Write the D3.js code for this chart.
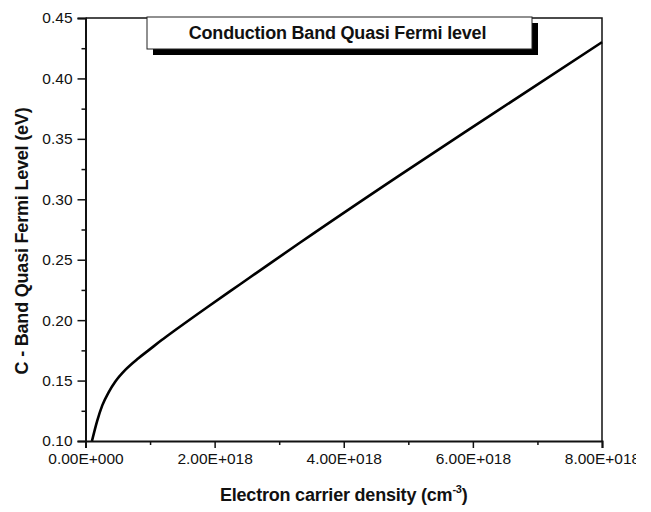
<!DOCTYPE html>
<html>
<head>
<meta charset="utf-8">
<script src="https://cdn.jsdelivr.net/npm/d3@7"></script>
<style>
  body { margin: 0; background: #fff; }
  svg { display: block; }
  text { font-family: "Liberation Sans", Arial, sans-serif; fill: #111; }
</style>
</head>
<body>
<svg id="chart"></svg>
<script>
const width = 651;
const height = 512;

// electron density (cm^-3) and quasi fermi level (eV)
const density = [1.0e17, 1.8e17, 2.6e17, 3.6e17, 4.6e17, 6.2e17, 8.2e17, 1.0e18, 1.18e18,
    1.37e18, 1.88e18, 2.39e18, 2.86e18, 3.32e18, 4.87e18, 6.26e18, 8.0e18];
const fermiLevel = [0.100, 0.1165, 0.1295, 0.1405, 0.149, 0.159, 0.1685, 0.176, 0.1835,
    0.191, 0.2105, 0.2295, 0.247, 0.264, 0.320, 0.369, 0.430];

const xTicks = [0, 2e18, 4e18, 6e18, 8e18];
const xMinor = [1e18, 3e18, 5e18, 7e18];
const yTicks = [0.10, 0.15, 0.20, 0.25, 0.30, 0.35, 0.40, 0.45];
const yMinor = [0.125, 0.175, 0.225, 0.275, 0.325, 0.375, 0.425];

const chartTitle = "Conduction Band Quasi Fermi level";
const yTitle = "C - Band Quasi Fermi Level (eV)";

const margin = { left: 85.5, right: 49, top: 18, bottom: 71 };

// the original image is cut off just past the last x label
const svg = d3.select("#chart")
    .attr("width", 636)
    .attr("height", height);

const x = d3.scaleLinear()
    .domain([0, 8e18])
    .range([margin.left, width - margin.right]);

const y = d3.scaleLinear()
    .domain([0.10, 0.45])
    .range([height - margin.bottom, margin.top]);

function sciFormat(d) {
    if (d === 0) return "0.00E+000";
    const e = Math.floor(Math.log10(d));
    const m = d / Math.pow(10, e);
    return m.toFixed(2) + "E+" + String(e).padStart(3, "0");
}

// frame top / right
svg.append("path")
    .attr("d", `M${x(0)},${y(0.45)}H${x(8e18)}V${y(0.10)}`)
    .attr("fill", "none")
    .attr("stroke", "#111")
    .attr("stroke-width", 1.5);

// x axis
svg.append("g")
    .attr("transform", `translate(0,${y(0.10)})`)
    .call(d3.axisBottom(x).tickValues(xTicks).tickFormat(sciFormat).tickSize(7).tickPadding(5));
svg.append("g")
    .attr("transform", `translate(0,${y(0.10)})`)
    .call(d3.axisBottom(x).tickValues(xMinor).tickFormat("").tickSize(4))
    .select(".domain").remove();

// y axis
svg.append("g")
    .attr("transform", `translate(${x(0)},0)`)
    .call(d3.axisLeft(y).tickValues(yTicks).tickFormat(d3.format(".2f")).tickSize(8).tickPadding(5));
svg.append("g")
    .attr("transform", `translate(${x(0)},0)`)
    .call(d3.axisLeft(y).tickValues(yMinor).tickFormat("").tickSize(4))
    .select(".domain").remove();

svg.selectAll(".domain").attr("stroke", "#111").attr("stroke-width", 2);
svg.selectAll(".tick line").attr("stroke", "#111").attr("stroke-width", 1.5);
svg.selectAll(".tick text")
    .style("font-family", '"Liberation Sans", Arial, sans-serif')
    .style("font-size", "15.5px")
    .attr("fill", "#222");

// curve
const line = d3.line()
    .x((d, i) => x(density[i]))
    .y((d, i) => y(fermiLevel[i]))
    .curve(d3.curveMonotoneX);

svg.append("path")
    .datum(density)
    .attr("d", line)
    .attr("fill", "none")
    .attr("stroke", "#000")
    .attr("stroke-width", 2.6);

// title box with shadow
const box = { x: 147, y: 17, w: 385, h: 32, off: 6 };
svg.append("rect")
    .attr("x", box.x + box.off).attr("y", box.y + box.off)
    .attr("width", box.w).attr("height", box.h)
    .attr("fill", "#000");
svg.append("rect")
    .attr("x", box.x).attr("y", box.y)
    .attr("width", box.w).attr("height", box.h)
    .attr("fill", "#fff")
    .attr("stroke", "#222")
    .attr("stroke-width", 1);
svg.append("text")
    .attr("x", box.x + box.w / 2 - 2)
    .attr("y", box.y + 21.5)
    .attr("text-anchor", "middle")
    .style("font-size", "18px")
    .style("font-weight", "bold")
    .style("letter-spacing", "-0.2px")
    .text(chartTitle);

// x title with superscript
const xt = svg.append("text")
    .attr("x", (x(0) + x(8e18)) / 2)
    .attr("y", 501)
    .attr("text-anchor", "middle")
    .style("font-size", "18px")
    .style("font-weight", "bold")
    .style("letter-spacing", "-0.2px");
xt.append("tspan").text("Electron carrier density (cm");
xt.append("tspan").attr("dy", -8).style("font-size", "11px").text("-3");
xt.append("tspan").attr("dy", 8).text(")");

// y title
svg.append("text")
    .attr("transform", `translate(28,241) rotate(-90)`)
    .attr("text-anchor", "middle")
    .style("font-size", "18px")
    .style("font-weight", "bold")
    .style("letter-spacing", "-0.2px")
    .text(yTitle);
</script>
</body>
</html>
